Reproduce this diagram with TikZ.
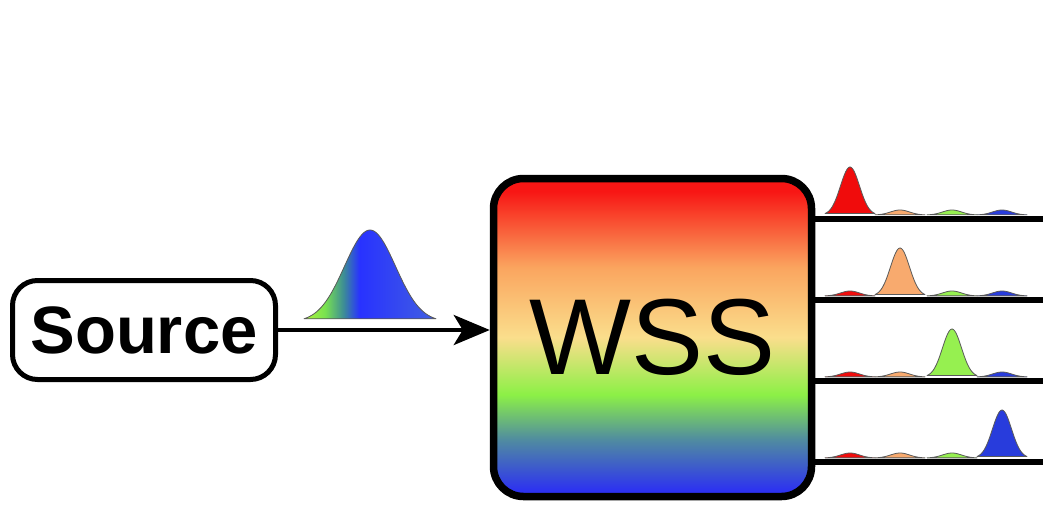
\documentclass[tikz,border=0pt]{standalone}
\usepackage{fontspec}
\setmainfont{Liberation Sans}
\usetikzlibrary{arrows.meta}
\definecolor{wred}{RGB}{248,22,20}
\definecolor{worange}{RGB}{250,165,95}
\definecolor{wyellow}{RGB}{250,222,140}
\definecolor{wgreen}{RGB}{140,240,70}
\definecolor{wteal}{RGB}{80,140,160}
\definecolor{wblue}{RGB}{45,50,240}
\definecolor{sg1}{RGB}{175,245,60}
\definecolor{sg2}{RGB}{120,225,80}
\definecolor{sg3}{RGB}{60,140,150}
\definecolor{sb1}{RGB}{40,50,255}
\definecolor{sb2}{RGB}{65,95,225}
\definecolor{bred}{RGB}{240,12,12}
\definecolor{borange}{RGB}{248,170,110}
\definecolor{bgreen}{RGB}{150,240,80}
\definecolor{bblue}{RGB}{40,60,220}
\pgfdeclareverticalshading{wssshade}{100bp}{color(0bp)=(wblue); color(26bp)=(wblue); color(34bp)=(wteal); color(41bp)=(wgreen); color(50bp)=(wyellow); color(61bp)=(worange); color(73bp)=(wred); color(100bp)=(wred)}
\pgfdeclarehorizontalshading{srcshade}{100bp}{color(0bp)=(sg1); color(25bp)=(sg1); color(33bp)=(sg2); color(40bp)=(sg3); color(46bp)=(sb1); color(75bp)=(sb2); color(100bp)=(sb2)}
\tikzset{
  boxsrc/.style={draw, line width=5pt, rounded corners=25pt, minimum width=263pt, minimum height=99pt, inner sep=0pt, font=\fontsize{67pt}{70pt}\selectfont\bfseries},
  boxwss/.style={draw, line width=7.5pt, rounded corners=30pt, minimum width=318pt, minimum height=318pt, inner sep=0pt, shading=wssshade, font=\fontsize{108pt}{110pt}\selectfont},
  bump/.style={draw=black!65, line width=0.8pt, line join=round},
  outline/.style={line width=5.5pt},
  conn/.style={line width=4pt, -{Stealth[length=36pt, width=30pt, inset=9pt]}}
}
\begin{document}
\begin{tikzpicture}[x=1pt,y=-1pt]
\useasboundingbox (0,0) rectangle (1043,504);
\node[boxsrc] (src) at (144,330) {Source};
\node[boxwss] (wss) at (652.5,337.5) {WSS};
\draw[conn] (src.east) -- (src.east -| wss.west);
\draw[bump, shading=srcshade] plot[domain=304:436, samples=90] (\x, {322-92*exp(-((\x-370)/25.5)^2/2)}) -- cycle;
\foreach \yy [count=\i] in {219,300,381,462} {
  \coordinate (o\i) at (1043,\yy);
  \foreach \cc/\col [count=\j] in {850/bred,900/borange,952/bgreen,1002/bblue} {
    \pgfmathsetmacro\hh{\i==\j ? 48 : 5}
    \pgfmathsetmacro\xa{\cc-25}
    \pgfmathsetmacro\xb{\cc+25}
    \draw[bump, fill=\col] plot[domain=\xa:\xb, samples=50] (\x,{\yy-4-\hh*exp(-((\x-\cc)/9.5)^2/2)}) -- cycle;
  }
  \draw[outline] (o\i -| wss.east) -- (o\i);
}
\end{tikzpicture}
\end{document}
